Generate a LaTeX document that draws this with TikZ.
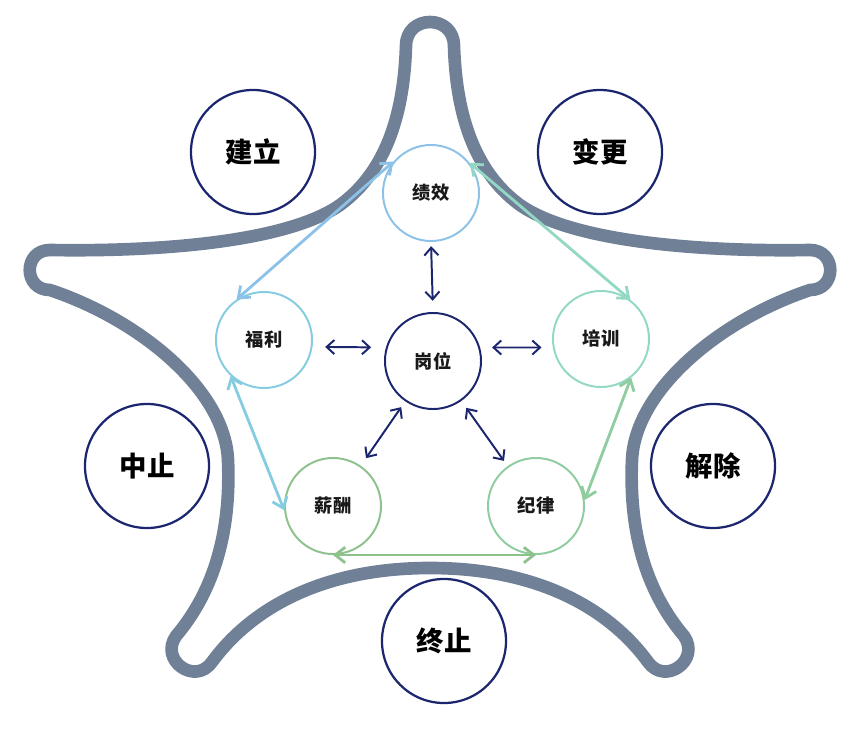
\documentclass[tikz,border=0pt]{standalone}
\usepackage{fontspec}
\setmainfont{Noto Sans CJK SC}
\usepackage{xcolor}
\usepackage{tikz}
\usetikzlibrary{arrows.meta}
\definecolor{navy}{RGB}{28,38,110}
\definecolor{slate}{RGB}{112,128,150}
\definecolor{skyc}{RGB}{140,194,232}
\definecolor{aquac}{RGB}{134,204,224}
\definecolor{mintc}{RGB}{146,216,196}
\definecolor{leafc}{RGB}{143,204,160}
\definecolor{grassc}{RGB}{141,194,140}
\tikzset{
    outer/.style={circle, draw=navy, line width=1.6pt, minimum size=3.1cm, text=black, font=\fontsize{19.5}{19.5}\selectfont\bfseries},
    inner/.style={circle, line width=1.4pt, minimum size=2.4cm, text=black!90, font=\fontsize{13}{13}\selectfont\bfseries},
    link/.style={draw, {Straight Barb[length=7pt,width=11pt]}-{Straight Barb[length=7pt,width=11pt]}, line width=2pt},
    pair/.style={draw=navy, {Straight Barb[length=5.5pt,width=10pt]}-{Straight Barb[length=5.5pt,width=10pt]}, line width=1.4pt}
}

\begin{document}
\begin{tikzpicture}[x=0.025cm, y=-0.025cm]
    \useasboundingbox (0,0) rectangle (849,729);
    % star outline
    \draw[slate, line width=9pt, line join=round]
        (406,46) .. controls (404,110) and (388,170) .. (340,205)
        .. controls (290,240) and (170,252) .. (50,250)
        .. controls (23,250) and (23,290) .. (50,290)
        .. controls (140,320) and (225,390) .. (228,460)
        .. controls (231,530) and (215,590) .. (176,636)
        .. controls (159,660) and (195,686) .. (212,662)
        .. controls (250,610) and (320,568) .. (430,568)
        .. controls (540,568) and (610,610) .. (648,662)
        .. controls (665,686) and (701,660) .. (684,636)
        .. controls (645,590) and (629,530) .. (632,460)
        .. controls (635,390) and (720,320) .. (810,290)
        .. controls (837,290) and (837,250) .. (810,250)
        .. controls (690,252) and (570,240) .. (520,205)
        .. controls (472,170) and (456,110) .. (454,46)
        .. controls (454,14) and (406,14) .. cycle;
    % outer stages
    \node[outer] (est) at (253,152) {建立};
    \node[outer] (chg) at (600,152) {变更};
    \node[outer] (pause) at (147,466) {中止};
    \node[outer] (dis) at (713,466) {解除};
    \node[outer] (term) at (444,641) {终止};
    % centre
    \node[inner, draw=navy] (post) at (433,361) {岗位};
    % ring of five
    \node[inner, draw=skyc] (perf) at (431,193) {绩效};
    \node[inner, draw=mintc] (train) at (601,339) {培训};
    \node[inner, draw=leafc] (disc) at (536,506) {纪律};
    \node[inner, draw=grassc] (pay) at (333,506) {薪酬};
    \node[inner, draw=aquac] (welf) at (264,340) {福利};
    
    \draw[link, skyc] (welf.124) -- (perf.140);
    \draw[link, mintc] (perf.38) -- (train.53);
    \draw[link, leafc] (train.308) -- (disc.7);
    \draw[link, grassc] (disc.270) -- (pay.270);
    \draw[link, aquac] (pay.185) -- (welf.227);
    
    \draw[pair, shorten <=3pt, shorten >=8pt] (perf.south) -- (post.north);
    \draw[pair, shorten <=9pt, shorten >=10.5pt] (welf.-8) -- (post.164);
    \draw[pair, shorten <=8.5pt, shorten >=8pt] (post.16) -- (train.190);
    \draw[pair, shorten <=5pt, shorten >=6.5pt] (post) -- (pay);
    \draw[pair, shorten <=6pt, shorten >=4.5pt] (post) -- (disc);
\end{tikzpicture}
\end{document}
